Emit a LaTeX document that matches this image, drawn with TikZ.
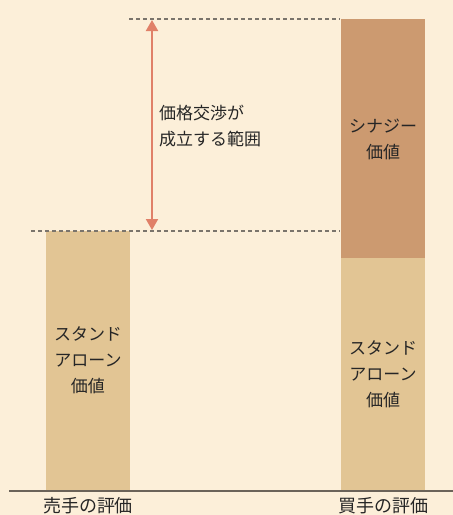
\documentclass[tikz,border=0pt]{standalone}
\usepackage{fontspec}
\setmainfont{Noto Sans CJK JP}
\usetikzlibrary{arrows.meta}
\definecolor{bg}{HTML}{FCEFD9}
\definecolor{light}{HTML}{E2C594}
\definecolor{dark}{HTML}{CC9A70}
\definecolor{arrowc}{HTML}{E08068}
\definecolor{linec}{HTML}{6B6359}
\definecolor{dashc}{HTML}{7A746C}
\definecolor{textc}{HTML}{262626}
\tikzset{
  lbl/.style={font=\fontsize{17}{26}\selectfont, text=textc, align=center, inner sep=0pt},
  axlbl/.style={font=\fontsize{18}{26}\selectfont, text=textc, inner sep=0pt},
  dashline/.style={draw=dashc, line width=1.6pt, dash pattern=on 4pt off 3pt}
}
\begin{document}
\begin{tikzpicture}[x=1pt,y=-1pt]
\fill[bg] (0,0) rectangle (453,515);
\useasboundingbox (0,0) rectangle (453,515);
% bars
\fill[light] (46,231) rectangle (130,491);
\fill[dark] (341,19) rectangle (425,258);
\fill[light] (341,258) rectangle (425,491);
% dashed lines
\coordinate (t1) at (129,19);
\coordinate (t2) at (340,19);
\coordinate (b1) at (31,231);
\coordinate (b2) at (340,231);
\draw[dashline] (t1) -- (t2);
\draw[dashline] (b1) -- (b2);
% baseline
\coordinate (g1) at (9,491);
\coordinate (g2) at (453,491);
\draw[linec, line width=1.2pt] (g1) -- (g2);
% arrow
\coordinate (a1) at (152,20);
\coordinate (a2) at (152,230);
\draw[arrowc, line width=2pt, {Triangle[width=12pt,length=11pt]}-{Triangle[width=12pt,length=11pt]}] (a1) -- (a2);
% texts
\node[lbl, align=left, anchor=west] (range) at (159,126) {価格交渉が\\成立する範囲};
\node[lbl] (sa1) at (88,360) {スタンド\\アローン\\価値};
\node[lbl] (sa2) at (383,374) {スタンド\\アローン\\価値};
\node[lbl] (syn) at (383,139) {シナジー\\価値};
\node[axlbl] (sell) at (88,506) {売手の評価};
\node[axlbl] (buy) at (383,506) {買手の評価};
\end{tikzpicture}
\end{document}
